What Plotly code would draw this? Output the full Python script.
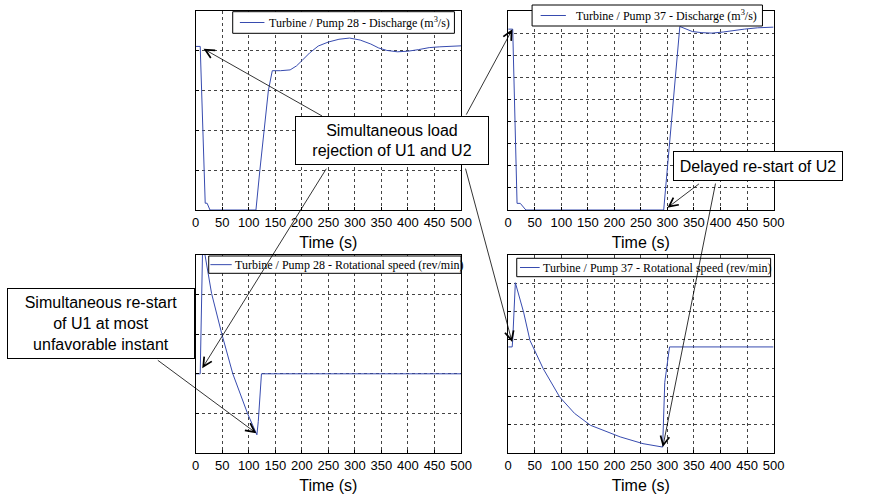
import plotly.graph_objects as go

W, H = 874, 495

# ---------------- data ----------------
t_q28 = [0, 8.6, 18, 21.6, 27, 113.6, 121, 129, 137, 144.4, 160, 178, 190, 200, 215, 231, 250, 270, 290, 310, 330, 345, 360, 380, 400, 420, 440, 460, 480, 500]
q28 = [4.11, 4.11, 0.17, 0.17, 0, 0, 1.0, 2.0, 3.0, 3.5, 3.5, 3.52, 3.62, 3.75, 3.95, 4.12, 4.22, 4.29, 4.32, 4.27, 4.17, 4.07, 4.01, 3.975, 3.99, 4.03, 4.08, 4.10, 4.12, 4.125]

t_q37 = [0, 8.5, 16.7, 22.8, 33.3, 293, 323.4, 347, 365, 384, 405, 425, 445, 470, 500]
q37 = [8.18, 8.18, 0.3, 0.3, 0, 0, 8.3, 8.07, 8.02, 8.0, 8.05, 8.12, 8.18, 8.24, 8.27]

t_n28 = [0, 8.6, 13, 17, 30, 49, 70, 98, 115.4, 118, 124, 500]
n28 = [2.0, 2.0, 5.1, 5.05, 4.03, 3.02, 2.0, 0.99, 0.46, 0.8, 2.0, 2.0]

t_n37 = [0, 7.5, 8.5, 13.5, 29, 41, 66, 97, 125, 155, 211, 254, 291, 295, 304, 500]
n37 = [3.75, 3.75, 4.0, 6.02, 4.98, 3.98, 2.98, 1.98, 1.4, 0.98, 0.57, 0.33, 0.21, 2.5, 3.75, 3.75]

names = ["Turbine / Pump 28 - Discharge (m<sup>3</sup>/s)",
         "Turbine / Pump 37 - Discharge (m<sup>3</sup>/s)",
         "Turbine / Pump 28 - Rotational speed (rev/min)",
         "Turbine / Pump 37 - Rotational speed (rev/min)"]
y_max = [5, 9, 5, 7]
x_ticks = list(range(0, 501, 50))
x_title = "Time (s)"

box_texts = ["Simultaneous load<br>rejection of U1 and U2",
             "Delayed re-start of U2",
             "Simultaneous re-start<br>of U1 at most<br>unfavorable instant"]

# ---------------- layout helpers ----------------
def px_x(v):
    return v / W

def px_y(v):
    return 1 - v / H

cols = [(195, 465), (513, 783)]
rows = [(11, 210), (255, 453)]

LINE = "rgb(55,75,175)"
SANS = "Liberation Sans, Arial, sans-serif"
SERIF = "Liberation Serif, Times New Roman, serif"

fig = go.Figure()
series = [(t_q28, q28), (t_q37, q37), (t_n28, n28), (t_n37, n37)]
panels = [(0, 0), (0, 1), (1, 0), (1, 1)]
# legend box: (left, top, right, bottom, sample_x0, sample_x1, text_x)
legend_boxes = [(232.7, 11.7, 458.3, 33.3, 240, 265, 267.3),
                (537.3, 5, 771.7, 26, 546, 571.7, 580),
                (208.3, 256, 465, 273.3, 210, 231.7, 233),
                (521.7, 258.3, 780, 276.7, 525, 545, 546.7)]

shapes = []
anns = []
for i, ((tt, vv), (r, c)) in enumerate(zip(series, panels)):
    k = "" if i == 0 else str(i + 1)
    fig.add_trace(go.Scatter(x=tt, y=vv, mode="lines", name=names[i],
                             line=dict(color=LINE, width=1),
                             xaxis="x" + k, yaxis="y" + k, showlegend=False))
    xa = dict(domain=[px_x(cols[c][0]), px_x(cols[c][1])], range=[0, 500],
              tickvals=x_ticks, ticktext=[str(v) for v in x_ticks],
              showgrid=True, gridcolor="#444", griddash="dot", gridwidth=1,
              showline=True, linecolor="black", linewidth=1.3, mirror=True,
              ticks="inside", ticklen=3, tickcolor="black",
              tickfont=dict(family=SANS, size=13, color="black"),
              title=dict(text=x_title, font=dict(family=SANS, size=16, color="black"), standoff=8),
              anchor="y" + k, zeroline=False, fixedrange=True)
    ya = dict(domain=[px_y(rows[r][1]), px_y(rows[r][0])], range=[0, y_max[i]],
              dtick=1, showticklabels=False,
              showgrid=True, gridcolor="#444", griddash="dot", gridwidth=1,
              showline=True, linecolor="black", linewidth=1.3, mirror=True,
              ticks="inside", ticklen=3, tickcolor="black",
              anchor="x" + k, zeroline=False, fixedrange=True)
    fig.layout["xaxis" + k] = xa
    fig.layout["yaxis" + k] = ya

    # legend drawn as a framed box with a line sample and the series name
    l, t, rr, b, s0, s1, tx = legend_boxes[i]
    shapes.append(dict(type="rect", xref="paper", yref="paper", layer="above",
                       x0=px_x(l), x1=px_x(rr), y0=px_y(b), y1=px_y(t),
                       fillcolor="white", line=dict(color="black", width=1)))
    ym = (t + b) / 2
    shapes.append(dict(type="line", xref="paper", yref="paper", layer="above",
                       x0=px_x(s0), x1=px_x(s1), y0=px_y(ym), y1=px_y(ym),
                       line=dict(color=LINE, width=1)))
    anns.append(dict(xref="paper", yref="paper", x=px_x(tx), y=px_y(ym + 0.5),
                     xanchor="left", yanchor="middle", text=names[i], showarrow=False,
                     font=dict(family=SERIF, size=12, color="black")))

# ---------------- arrows (head in data coords, tail offset px) ----------------
arrows = [
    ("x", "y", 14.8, 4.05, 120, 68),
    ("x2", "y2", 8.0, 8.18, -47, 87),
    ("x3", "y3", 12.4, 2.14, 125, -201),
    ("x4", "y4", 7.4, 3.92, -47, -175),
    ("x", "y", 101.9, -0.075, -93, 75),
    ("x3", "y3", 114.3, 0.5, -100, -74),
    ("x2", "y2", 300, 0.1, 33, -25),
    ("x4", "y4", 291.3, 0.21, 53, -265),
]
for xr, yr, x, y, ax, ay in arrows:
    anns.append(dict(xref=xr, yref=yr, x=x, y=y, ax=ax, ay=ay, text="",
                     showarrow=True, arrowhead=5,
                     arrowsize=2.2, arrowwidth=0.8, arrowcolor="black",
                     standoff=0, startstandoff=0))

boxes = [(395, 140.5, 194, 49), (767.5, 166, 170, 30), (99, 323.5, 188, 71)]
for (cx, cy, bw, bh), txt in zip(boxes, box_texts):
    anns.append(dict(xref="paper", yref="paper", x=px_x(cx), y=px_y(cy),
                     xanchor="center", yanchor="middle", text=txt, showarrow=False,
                     width=bw - 2, height=bh - 2, align="center", valign="middle",
                     bgcolor="white", bordercolor="black", borderwidth=1, borderpad=0,
                     font=dict(family=SANS, size=16, color="black")))

fig.update_layout(width=W, height=H, margin=dict(l=0, r=0, t=0, b=0),
                  paper_bgcolor="white", plot_bgcolor="white",
                  annotations=anns, shapes=shapes, showlegend=False)

fig.write_html("out.html")
